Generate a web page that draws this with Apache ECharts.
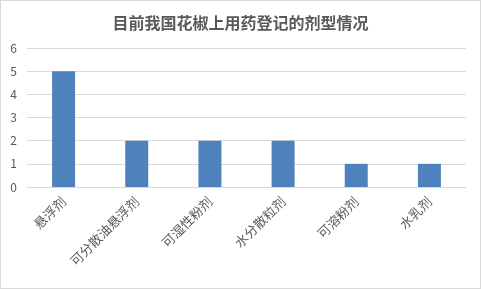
<!DOCTYPE html>
<html><head><meta charset="utf-8">
<script src="https://cdn.jsdelivr.net/npm/echarts@6/dist/echarts.min.js"></script>
<style>html,body{margin:0;padding:0;background:#fff}#c{width:481px;height:289px;box-sizing:border-box;border:1px solid #d9d9d9}</style>
</head><body><div id="c"></div>
<script>
const categories = ['悬浮剂','可分散油悬浮剂','可湿性粉剂','水分散粒剂','可溶粉剂','水乳剂'];
const values = [5,2,2,2,1,1];
const yTicks = {min:0,max:6,interval:1};
const chart = echarts.init(document.getElementById('c'));
chart.setOption({
  animation:false,
  title:{text:'目前我国花椒上用药登记的剂型情况',left:'center',top:9,
    textStyle:{fontFamily:'Noto Sans CJK SC',fontSize:16,fontWeight:'bold',color:'#595959'}},
  grid:{left:26,right:14,top:47,bottom:101,containLabel:false},
  xAxis:{type:'category',data:categories,
    axisLine:{lineStyle:{color:'#d9d9d9'}},axisTick:{show:false},
    axisLabel:{rotate:45,interval:0,margin:12,color:'#595959',fontSize:13,fontFamily:'Noto Sans CJK SC'}},
  yAxis:{type:'value',min:yTicks.min,max:yTicks.max,interval:yTicks.interval,
    axisLine:{show:false},axisTick:{show:false},
    splitLine:{lineStyle:{color:'#d9d9d9'}},
    axisLabel:{color:'#595959',fontSize:12,margin:10,fontFamily:'Noto Sans CJK SC'}},
  series:[{type:'bar',data:values,barWidth:23,itemStyle:{color:'#4f81bd'}}]
});
</script></body></html>
